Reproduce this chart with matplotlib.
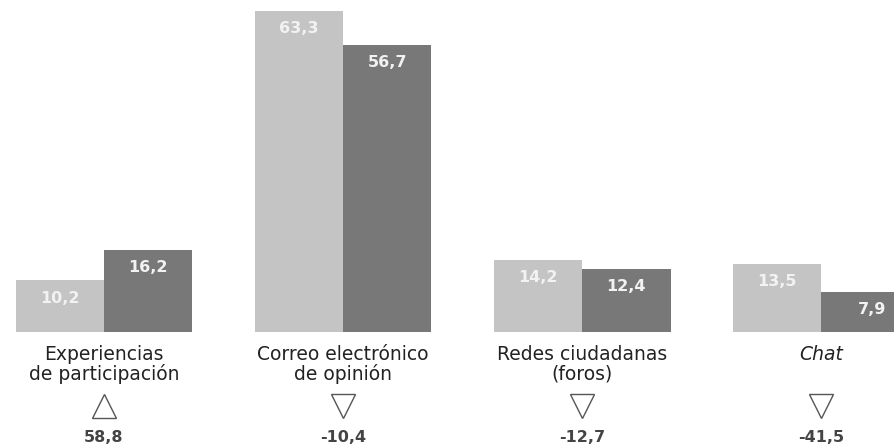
import matplotlib
matplotlib.use("Agg")
import matplotlib.pyplot as plt
import numpy as np

plt.rcParams["font.family"] = ["DejaVu Sans"]

categories = ["Experiencias\nde participación", "Correo electrónico\nde opinión",
              "Redes ciudadanas\n(foros)", "Chat"]
serie_a = [10.2, 63.3, 14.2, 13.5]
serie_b = [16.2, 56.7, 12.4, 7.9]
variacion = [58.8, -10.4, -12.7, -41.5]

LIGHT = "#c4c4c4"
DARK = "#787878"


def fmt(v):
    return f"{v:.1f}".replace(".", ",")


fig = plt.figure(figsize=(8.94, 4.46), dpi=100)
ax = fig.add_axes([0, 0, 1, 1])
ax.set_axis_off()

x = np.arange(len(categories))
w = 0.37
ax.bar(x - w / 2, serie_a, w, color=LIGHT)
ax.bar(x + w / 2, serie_b, w, color=DARK)

for i in x:
    ax.text(i - w / 2, serie_a[i] - 3.5, fmt(serie_a[i]), ha="center", va="center",
            color="#f2f2f2", fontsize=11.5, fontweight="bold")
    ax.text(i + w / 2 + 0.03 * (i == 3), serie_b[i] - 3.5, fmt(serie_b[i]), ha="center",
            va="center", color="#f2f2f2", fontsize=11.5, fontweight="bold")

    ax.text(i, -2.6, categories[i], ha="center", va="top", color="#222222",
            fontsize=13.5, linespacing=1.0, style="italic" if categories[i] == "Chat" else "normal")

    marker = "^" if variacion[i] > 0 else "v"
    ax.plot(i, -14.6, marker=marker, markersize=17, markerfacecolor="white",
            markeredgecolor="#555555", markeredgewidth=1.0, linestyle="none")
    ax.text(i, -20.9, fmt(variacion[i]), ha="center", va="center", color="#444444",
            fontsize=11.5, fontweight="bold")

ax.set_xlim(-0.435, 3.305)
ax.set_ylim(-22.5, 65.5)

fig.savefig("out.png", dpi=100, facecolor="white")
